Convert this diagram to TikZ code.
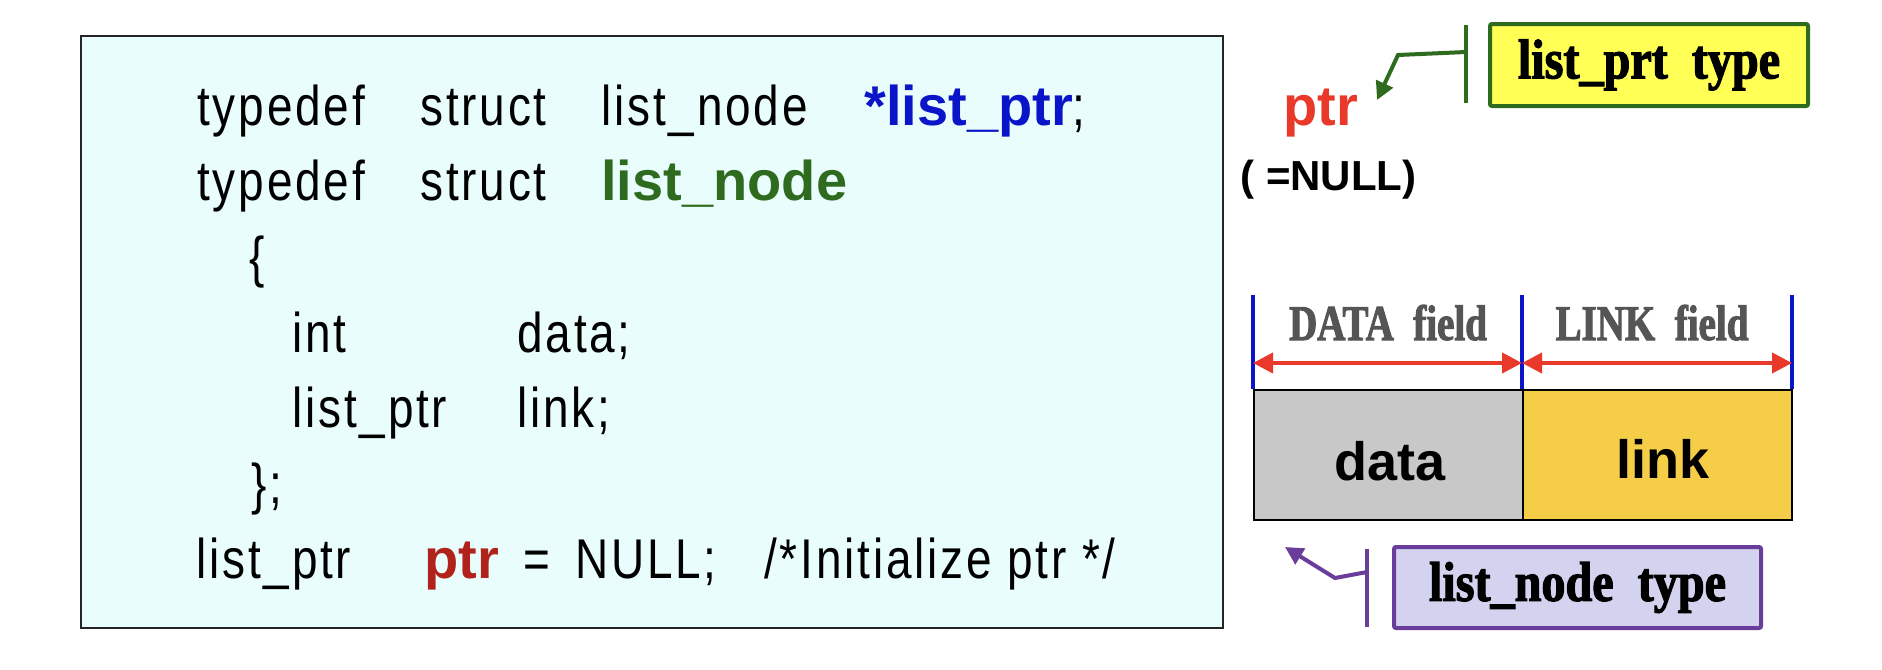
\documentclass[tikz,border=0pt]{standalone}
\usepackage{fontspec}
\setmainfont{Liberation Sans}
\newfontfamily\condf[FakeStretch=0.82,LetterSpace=5]{Liberation Sans}
\newfontfamily\serifc[FakeStretch=0.86,WordSpace=2,BoldFeatures={FakeBold=2}]{Liberation Serif}
\newfontfamily\serifd[FakeStretch=0.78,WordSpace=2,BoldFeatures={FakeBold=2}]{Liberation Serif}
\usetikzlibrary{arrows.meta}
\definecolor{codebg}{HTML}{E8FDFC}
\definecolor{kblue}{HTML}{0A14C8}
\definecolor{kgreen}{HTML}{2E6B1E}
\definecolor{kred}{HTML}{B0221A}
\definecolor{pred}{HTML}{E8392A}
\definecolor{ylw}{HTML}{FFFF55}
\definecolor{grayfill}{HTML}{C8C8C8}
\definecolor{gold}{HTML}{F5CD47}
\definecolor{lav}{HTML}{D3D3F0}
\definecolor{purp}{HTML}{6A3D9A}
\definecolor{txtgray}{HTML}{555555}
\definecolor{barblue}{HTML}{0A14C8}
\tikzset{
  codebox/.style={draw=black!85, line width=1pt, fill=codebg, inner sep=0pt, anchor=north west},
  code/.style={anchor=base west, inner sep=0pt, font=\condf\fontsize{28}{30}\selectfont},
  codebold/.style={anchor=base west, inner sep=0pt, font=\bfseries\fontsize{28}{30}\selectfont},
  fieldbox/.style={draw=black, line width=1pt, inner sep=0pt, anchor=north west, minimum width=134.5pt, minimum height=65pt},
  fieldtxt/.style={anchor=base, inner sep=0pt, font=\bfseries\fontsize{27}{30}\selectfont},
  fieldlbl/.style={anchor=base, inner sep=0pt, text=txtgray, font=\serifd\bfseries\fontsize{25}{27}\selectfont},
  typebox/.style={line width=2pt, rounded corners=1pt, inner sep=0pt, font=\serifc\bfseries\fontsize{28}{30}\selectfont},
  bluebar/.style={draw=barblue, line width=2pt},
  redarrow/.style={draw=pred, line width=2pt, {Triangle[length=10pt,width=10pt]}-{Triangle[length=10pt,width=10pt]}},
  greenconn/.style={draw=kgreen, line width=2pt},
  purpconn/.style={draw=purp, line width=2pt},
}
\begin{document}
\begin{tikzpicture}[x=0.5pt,y=-0.5pt]
\useasboundingbox (0,0) rectangle (1882,669);
% code box
\node (code) [codebox, minimum width=571pt, minimum height=296pt] at (80,35) {};
% line 1
\node (l1a) [code] at (197,125) {typedef};
\node (l1b) [code] at (420,125) {struct};
\node (l1c) [code] at (601,125) {list\_node};
\node (l1d) [codebold] at (864,125) {\textcolor{kblue}{*list\_ptr}{\mdseries\condf;}};
% line 2
\node (l2a) [code] at (197,200.6) {typedef};
\node (l2b) [code] at (420,200.6) {struct};
\node (l2c) [codebold, text=kgreen] at (601,200.6) {list\_node};
% line 3
\node (l3a) [code] at (249,276) {\{};
% line 4
\node (l4a) [code] at (292,352) {int};
\node (l4b) [code] at (517,352) {data;};
% line 5
\node (l5a) [code] at (292,427) {list\_ptr};
\node (l5b) [code] at (517,427) {link;};
% line 6
\node (l6a) [code] at (251,503) {\};};
% line 7
\node (l7a) [code] at (196,578) {list\_ptr};
\node (l7b) [codebold, text=kred] at (424,578) {ptr};
\node (l7c) [code] at (523,578) {=};
\node (l7d) [code] at (575,578) {NULL;};
\node (l7e) [code] at (764,578) {/*Initialize ptr */};

% ptr variable
\node (ptr) [anchor=base west, inner sep=0pt, text=pred, font=\bfseries\fontsize{28}{30}\selectfont] at (1283,125) {ptr};
\node (null) [anchor=base west, inner sep=0pt, font=\bfseries\fontsize{21}{24}\selectfont] at (1240,190) {( =NULL)};
% list_prt type box
\node (ptype) [typebox, draw=kgreen, fill=ylw, minimum width=159pt, minimum height=41pt] at (1649,65) {list\_prt type};
\coordinate (gbt) at (1466,25);
\coordinate (gbb) at (1466,103);
\coordinate (gbm) at (1466,52);
\coordinate (gbk) at (1398,55);
\coordinate (ptrtip) at (1377,100);
\draw[greenconn] (gbt) -- (gbb);
\draw[greenconn, -{Triangle[length=9pt,width=9pt]}] (gbm) -- (gbk) -- (ptrtip);

% field diagram
\coordinate (b1t) at (1253,295); \coordinate (b1b) at (1253,389);
\coordinate (b2t) at (1522,295); \coordinate (b2b) at (1522,389);
\coordinate (b3t) at (1792,295); \coordinate (b3b) at (1792,389);
\coordinate (b1m) at (1253,363); \coordinate (b2m) at (1522,363); \coordinate (b3m) at (1792,363);
\node (datab) [fieldbox, fill=grayfill] at (1253,389) {};
\node (linkb) [fieldbox, fill=gold] at (1522,389) {};
\node (datat) [fieldtxt] at (1390,480) {data};
\node (linkt) [fieldtxt] at (1663,478) {link};
\draw[bluebar] (b1t) -- (b1b);
\draw[bluebar] (b2t) -- (b2b);
\draw[bluebar] (b3t) -- (b3b);
\draw[redarrow] (b1m) -- (b2m);
\draw[redarrow] (b2m) -- (b3m);
\node (dataf) [fieldlbl] at (1388,340) {DATA field};
\node (linkf) [fieldlbl] at (1652,340) {LINK field};

% list_node type box
\node (ntype) [typebox, draw=purp, fill=lav, minimum width=183.5pt, minimum height=40.5pt] at (1577.5,587.5) {list\_node type};
\coordinate (pbt) at (1367,549);
\coordinate (pbb) at (1367,627);
\coordinate (pbm) at (1367,572);
\coordinate (pbk) at (1335,578);
\coordinate (nodetip) at (1285,547);
\draw[purpconn] (pbt) -- (pbb);
\draw[purpconn, -{Triangle[length=9pt,width=9pt]}] (pbm) -- (pbk) -- (nodetip);
\end{tikzpicture}
\end{document}
